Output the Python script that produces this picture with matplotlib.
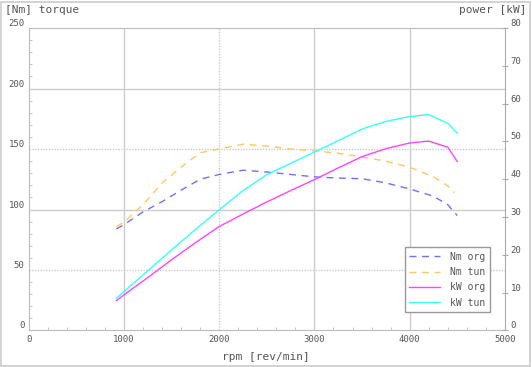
import matplotlib.pyplot as plt
from matplotlib.patches import Rectangle

# torque curves [Nm]
rpm_nm_org = [920, 1000, 1200, 1400, 1600, 1800, 2000, 2250, 2500, 2750, 3000, 3250, 3500, 3750, 4000, 4250, 4400, 4500]
nm_org = [84, 87.5, 98, 106.5, 116, 125, 129, 132.5, 131, 129, 127, 126, 125.5, 122, 117, 111, 104, 95]
rpm_nm_tun = [920, 1000, 1200, 1400, 1600, 1800, 2000, 2250, 2500, 2750, 3000, 3250, 3500, 3750, 4000, 4250, 4400, 4470]
nm_tun = [86, 89.5, 104, 122, 135, 147, 150, 154, 152.5, 150, 148.5, 146.5, 143.5, 140, 135, 127, 119.5, 114]

# power curves [kW]
rpm_kw = [920, 1000, 1250, 1500, 1750, 2000, 2250, 2500, 2750, 3000, 3250, 3500, 3750, 4000, 4200, 4400, 4500]
kw_org = [7.9, 9.4, 14.0, 18.7, 23.2, 27.5, 30.8, 34.0, 37.0, 39.9, 43.0, 46.0, 48.1, 49.6, 50.1, 48.5, 44.7]
kw_tun = [8.5, 10.3, 15.8, 21.3, 26.7, 31.9, 37.0, 41.2, 44.2, 47.2, 50.2, 53.3, 55.3, 56.6, 57.1, 54.8, 52.2]

x_ticks = [0, 1000, 2000, 3000, 4000, 5000]
nm_ticks = [0, 50, 100, 150, 200, 250]
kw_ticks = [0, 10, 20, 30, 40, 50, 60, 70, 80]

txt = '#555555'
grid = '#cccccc'
mono = 'DejaVu Sans Mono'

fig = plt.figure(figsize=(5.32, 3.67), dpi=100)
fig.patches.append(Rectangle((0.002, 0.004), 0.994, 0.99, transform=fig.transFigure,
                             fill=False, edgecolor='#cccccc', lw=1.2))
ax = fig.add_axes([0.054, 0.0995, 0.895, 0.824])
ax2 = ax.twinx()

ax.set_xlim(0, 5000)
ax.set_ylim(0, 250)
ax2.set_ylim(0, 80)

# grid
for v in [1000, 3000, 4000]:
    ax.axvline(v, color=grid, lw=1, zorder=0)
ax.axvline(2000, color=grid, lw=1, ls=(0, (1, 1)), zorder=0)
for h in [100, 200]:
    ax.axhline(h, color=grid, lw=1, zorder=0)
for h in [50, 150]:
    ax.axhline(h, color=grid, lw=1, ls=(0, (1, 1)), zorder=0)

l1, = ax.plot(rpm_nm_org, nm_org, color='#7070ff', lw=1, ls=(0, (5, 4)), label='Nm org')
l2, = ax.plot(rpm_nm_tun, nm_tun, color='#ffc860', lw=1, ls=(0, (5, 4)), label='Nm tun')
l3, = ax2.plot(rpm_kw, kw_org, color='#ff44ff', lw=1, label='kW org')
l4, = ax2.plot(rpm_kw, kw_tun, color='#33ffff', lw=1, label='kW tun')

for s in ['left', 'bottom', 'top']:
    ax.spines[s].set_color('#bbbbbb')
    ax.spines[s].set_linestyle((0, (1, 1)))
    ax2.spines[s].set_visible(False)
ax.spines['right'].set_visible(False)
ax2.spines['right'].set_color('#aaaaaa')

ax.set_xticks(x_ticks)
ax.set_xticks(range(0, 5001, 200), minor=True)
ax.set_yticks(nm_ticks)
ax.set_yticks(range(0, 251, 10), minor=True)
ax.tick_params(axis='both', which='both', direction='in', colors='#bbbbbb',
               labelcolor=txt, labelsize=6.5)
ax.tick_params(axis='both', which='major', length=0)
ax.tick_params(axis='both', which='minor', length=2)
ax.set_xticklabels([str(v) for v in x_ticks], family=mono)
ax.set_yticklabels([str(v) for v in nm_ticks], family=mono, va='bottom')
ax.tick_params(axis='y', pad=3)
ax.tick_params(axis='x', pad=3)

ax2.set_yticks(kw_ticks)
ax2.set_yticklabels([str(v) for v in kw_ticks], family=mono, va='bottom')
ax2.tick_params(axis='y', direction='inout', length=4, colors='#aaaaaa',
                labelcolor=txt, labelsize=6.5, pad=2)

fig.text(0.01, 0.972, '[Nm] torque', family=mono, fontsize=8, color=txt, va='center')
fig.text(0.99, 0.972, 'power [kW]', family=mono, fontsize=8, color=txt, va='center', ha='right')
fig.text(0.5, 0.027, 'rpm [rev/min]', family=mono, fontsize=8, color=txt, va='center', ha='center')

leg = ax2.legend(handles=[l1, l2, l3, l4], loc='lower left', bbox_to_anchor=(0.79, 0.061),
                 borderaxespad=0, prop={'family': mono, 'size': 7}, labelcolor=txt,
                 fancybox=False, framealpha=1, edgecolor='#999999', handlelength=3.2,
                 borderpad=0.45, labelspacing=0.55, handletextpad=1.0)
leg.get_frame().set_linewidth(1)

fig.savefig('out.png', dpi=100)
